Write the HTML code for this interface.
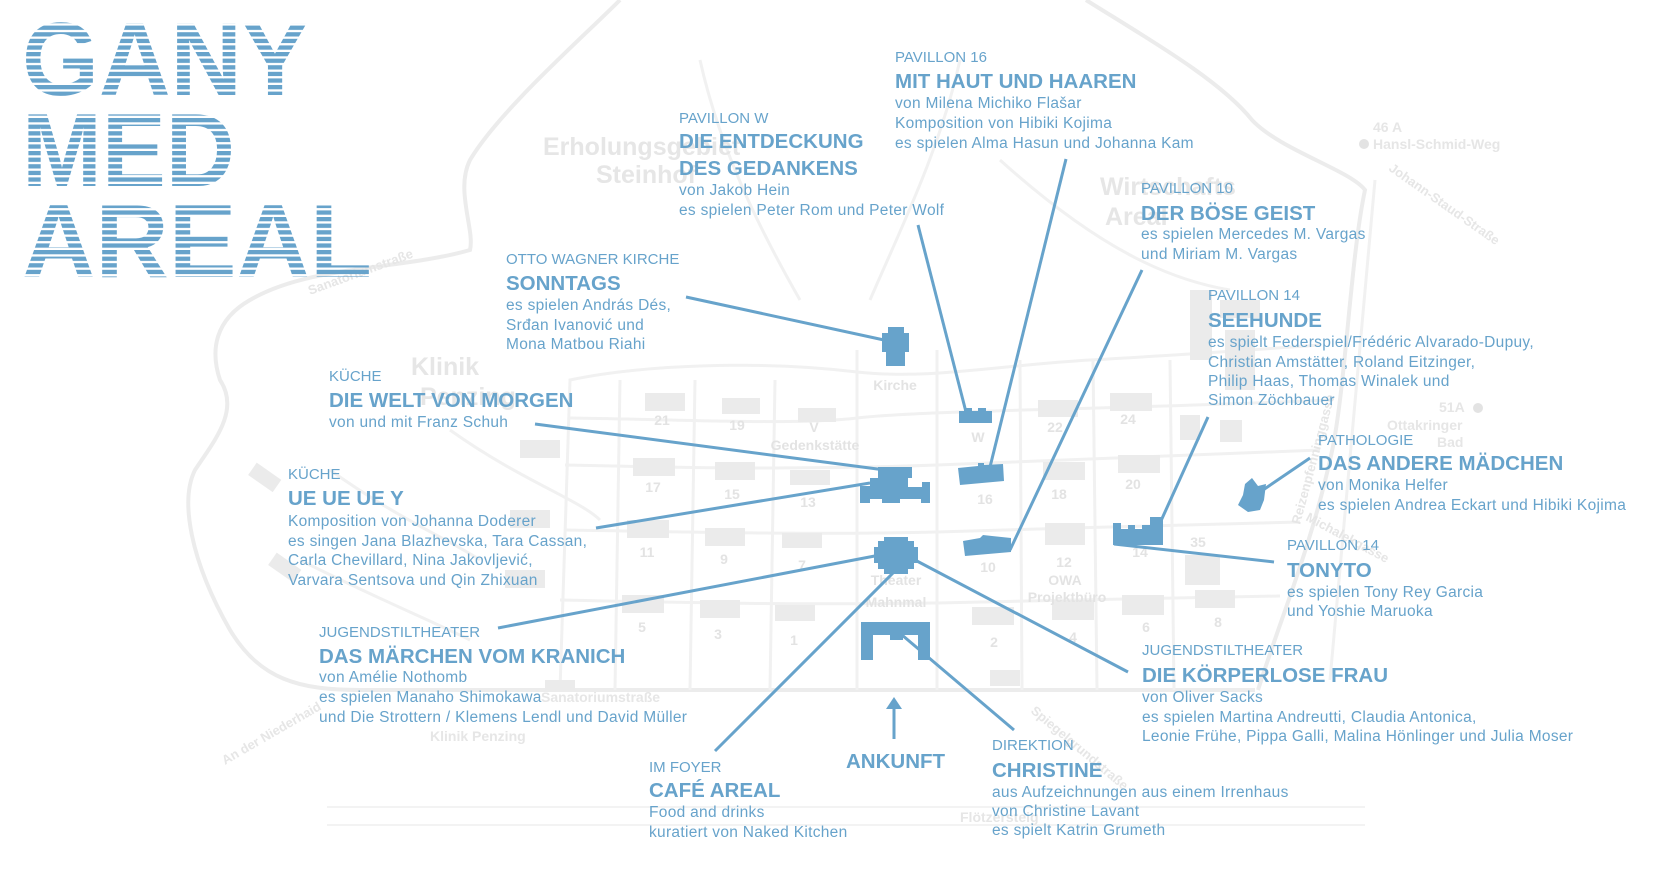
<!DOCTYPE html>
<html><head><meta charset="utf-8"><style>
html,body{margin:0;padding:0;background:#fff;}
svg{display:block;}
.h{font-family:"Liberation Sans",sans-serif;font-size:15px;fill:#67a3cb;}
.t{font-family:"Liberation Sans",sans-serif;font-size:20.5px;font-weight:bold;fill:#67a3cb;}
.b{font-family:"Liberation Sans",sans-serif;font-size:15.5px;fill:#67a3cb;letter-spacing:0.3px;}
.g{font-family:"Liberation Sans",sans-serif;font-weight:bold;fill:#e6e6e6;}
.n{font-family:"Liberation Sans",sans-serif;font-size:14px;fill:#e3e3e3;text-anchor:middle;font-weight:bold;}
.r{fill:none;stroke:#f1f1f1;stroke-width:3;}
.r2{fill:none;stroke:#ececec;stroke-width:4;}
.c{stroke:#67a3cb;stroke-width:3;fill:none;}
.bl{fill:#67a3cb;}
.gb{fill:#ebebeb;}
</style></head><body>
<svg width="1680" height="885" viewBox="0 0 1680 885" xmlns="http://www.w3.org/2000/svg">
<defs>
<pattern id="st" patternUnits="userSpaceOnUse" x="0" y="19" width="20" height="6.6">
<rect x="0" y="0" width="20" height="4.3" fill="#67a3cb"/>
</pattern>
</defs>

<path class="r2" d="M 620 0 C 580 40 500 110 470 160 C 455 190 475 230 470 250 C 400 270 310 265 250 300 C 215 320 210 350 220 380 C 240 410 215 440 195 470 C 180 500 190 560 230 630 C 260 680 300 690 360 690 L 1255 690"/>
<path class="r2" d="M 1086 0 C 1150 40 1220 80 1252 120 C 1280 150 1350 170 1365 190 C 1350 260 1345 400 1330 460 C 1310 550 1280 620 1258 690"/>
<path class="r" d="M 560 690 L 570 380 C 640 365 760 360 857 372 C 930 380 1000 365 1090 360 C 1180 355 1250 350 1320 345"/>
<path class="r" d="M 570 418 C 700 420 800 425 857 418 C 930 410 1100 410 1330 400"/>
<path class="r" d="M 565 465 C 700 468 800 470 937 465 C 1050 460 1200 455 1320 450"/>
<path class="r" d="M 565 530 C 700 532 800 535 937 532 C 1050 528 1200 525 1300 522"/>
<path class="r" d="M 560 600 C 700 603 800 605 937 603 C 1050 600 1200 598 1280 596"/>
<path class="r" d="M 620 380 L 615 690 M 695 380 L 690 690 M 775 380 L 770 690 M 857 350 L 857 690 M 937 350 L 937 690 M 1020 360 L 1022 690 M 1093 360 L 1097 690 M 1170 360 L 1174 690"/>
<path class="r" d="M 960 60 C 940 150 900 230 870 300 M 700 60 C 720 150 760 230 800 300 M 1000 160 C 1100 250 1170 280 1230 290"/>
<path class="r" d="M 330 470 C 400 520 450 540 480 560 M 300 560 C 380 600 430 620 470 640 M 450 430 C 520 480 580 500 600 520"/>
<path class="r" d="M 1375 180 L 1330 680"/>
<path d="M 327 807 L 1365 807 M 327 825 L 1365 825" stroke="#f3f3f3" stroke-width="2" fill="none"/>

<g class="gb">
<rect x="645" y="393" width="40" height="18"/><rect x="722" y="398" width="38" height="16"/><rect x="798" y="408" width="38" height="14"/>
<rect x="1038" y="400" width="40" height="17"/><rect x="1110" y="393" width="42" height="18"/>
<rect x="633" y="458" width="42" height="18"/><rect x="715" y="462" width="40" height="18"/><rect x="790" y="470" width="40" height="15"/>
<rect x="1043" y="462" width="42" height="18"/><rect x="1118" y="455" width="42" height="18"/>
<rect x="627" y="520" width="42" height="18"/><rect x="705" y="528" width="40" height="18"/><rect x="782" y="533" width="40" height="15"/>
<rect x="1045" y="523" width="40" height="22"/><rect x="1185" y="555" width="35" height="30"/>
<rect x="622" y="595" width="42" height="18"/><rect x="700" y="600" width="40" height="18"/><rect x="775" y="605" width="40" height="16"/>
<rect x="972" y="607" width="42" height="18"/><rect x="1052" y="600" width="42" height="20"/><rect x="1122" y="595" width="42" height="20"/><rect x="1195" y="590" width="40" height="18"/>
<rect x="520" y="440" width="40" height="18"/><rect x="510" y="510" width="40" height="18"/><rect x="505" y="570" width="40" height="18"/>
<rect x="1190" y="290" width="22" height="70"/><rect x="1220" y="300" width="40" height="18"/><rect x="1225" y="330" width="30" height="60"/>
<rect x="1180" y="415" width="20" height="25"/><rect x="1220" y="420" width="22" height="22"/>
<rect x="250" y="470" width="30" height="15" transform="rotate(35 265 477)"/><rect x="270" y="560" width="30" height="15" transform="rotate(35 285 567)"/>
<rect x="990" y="670" width="30" height="16"/><rect x="545" y="680" width="30" height="10"/>
</g>
<g class="n">
<text x="662" y="425">21</text><text x="737" y="430">19</text><text x="814" y="432">V</text>
<text x="978" y="442">W</text><text x="1055" y="432">22</text><text x="1128" y="424">24</text>
<text x="653" y="492">17</text><text x="732" y="499">15</text><text x="808" y="507">13</text>
<text x="985" y="504">16</text><text x="1059" y="499">18</text><text x="1133" y="489">20</text>
<text x="647" y="557">11</text><text x="724" y="564">9</text><text x="802" y="570">7</text>
<text x="988" y="572">10</text><text x="1064" y="567">12</text><text x="1065" y="585">OWA</text><text x="1067" y="602">Projektbüro</text>
<text x="1140" y="557">14</text><text x="1198" y="547">35</text>
<text x="642" y="632">5</text><text x="718" y="639">3</text><text x="794" y="645">1</text>
<text x="994" y="647">2</text><text x="1073" y="642">4</text><text x="1146" y="632">6</text><text x="1218" y="627">8</text>
<text x="896" y="585">Theater</text><text x="896" y="607">Mahnmal</text>
<text x="895" y="390">Kirche</text><text x="815" y="450">Gedenkstätte</text>
</g>
<text class="g" x="543" y="155" font-size="25">Erholungsgebiet</text>
<text class="g" x="596" y="183" font-size="25">Steinhof</text>
<text class="g" x="1100" y="195" font-size="25">Wirtschafts</text>
<text class="g" x="1105" y="225" font-size="25">Areal</text>
<text class="g" x="411" y="375" font-size="25">Klinik</text>
<text class="g" x="420" y="405" font-size="25">Penzing</text>
<text class="g" x="1373" y="132" font-size="14">46 A</text>
<circle cx="1364" cy="144" r="5" fill="#e3e3e3"/>
<text class="g" x="1373" y="149" font-size="14">Hansl-Schmid-Weg</text>
<text class="g" x="1388" y="170" font-size="13" transform="rotate(35 1388 170)">Johann-Staud-Straße</text>
<text class="g" x="1439" y="412" font-size="14">51A</text>
<circle cx="1478" cy="408" r="5" fill="#e3e3e3"/>
<text class="g" x="1387" y="430" font-size="14">Ottakringer</text>
<text class="g" x="1437" y="447" font-size="14">Bad</text>
<text class="g" x="541" y="702" font-size="14" font-weight="normal">Sanatoriumstraße</text>
<text class="g" x="430" y="741" font-size="14">Klinik Penzing</text>
<text class="g" x="225" y="765" font-size="13" font-weight="normal" transform="rotate(-30 225 765)">An der Niederhaid</text>
<text class="g" x="310" y="295" font-size="13" font-weight="normal" transform="rotate(-20 310 295)">Sanatoriumstraße</text>
<text class="g" x="1030" y="712" font-size="13" font-weight="normal" transform="rotate(40 1030 712)">Spiegelgrundstraße</text>
<text class="g" x="960" y="822" font-size="14" font-weight="normal">Flötzersteig</text>
<text class="g" x="1300" y="525" font-size="13" font-weight="normal" transform="rotate(-75 1300 525)">Reizenpfenninggasse</text>
<text class="g" x="1305" y="520" font-size="13" font-weight="normal" transform="rotate(28 1305 520)">Michalekgasse</text>

<g font-family="Liberation Sans, sans-serif" font-weight="bold" font-size="104" fill="url(#st)">
<text x="22" y="95" textLength="286" lengthAdjust="spacingAndGlyphs">GANY</text>
<text x="22" y="186" textLength="213" lengthAdjust="spacingAndGlyphs">MED</text>
<text x="22" y="277" textLength="350" lengthAdjust="spacingAndGlyphs">AREAL</text>
</g>

<path class="c" d="M686 297 L884 340"/>
<path class="c" d="M918 225 L966 412"/>
<path class="c" d="M1066 159 L990 467"/>
<path class="c" d="M1142 270 L1010 550"/>
<path class="c" d="M1208 417 L1160 523"/>
<path class="c" d="M1310 458 L1263 490"/>
<path class="c" d="M1114 544 L1274 562"/>
<path class="c" d="M535 424 L885 470"/>
<path class="c" d="M596 528 L870 483"/>
<path class="c" d="M498 628 L880 555"/>
<path class="c" d="M715 751 L896 570"/>
<path class="c" d="M915 560 L1128 672"/>
<path class="c" d="M902 635 L1014 730"/>
<path class="c" d="M894 739 L894 706"/>
<polygon class="bl" points="894,697 886,709 902,709"/>

<g class="bl">
<path d="M888 327 H904 V333 H909 V352 H905 V366 H886 V352 H882 V333 H888Z"/>
<rect x="959" y="411" width="33" height="12"/><rect x="964" y="408" width="8" height="4"/><rect x="978" y="408" width="8" height="4"/>
<path d="M958 468 L978 466 L978 463 L984 463 L984 465 L1003 464 L1004 481 L960 485Z"/>
<path d="M878 467 H912 V478 H908 V487 H922 V482 H930 V503 H921 V499 H900 V503 H882 V499 H870 V503 H860 V486 H870 V478 H878Z"/>
<path d="M884 537 H908 V541 H914 V547 H918 V563 H914 V569 H908 V574 H884 V569 H878 V563 H874 V547 H878 V541 H884Z"/>
<path d="M963 541 L980 538 L983 535 L992 536 L1011 538 L1011 552 L965 556Z"/>
<path d="M1113 523 H1121 V529 H1128 V525 H1135 V529 H1142 V525 H1150 V517 H1163 V545 H1113Z"/>
<path d="M1245 484 L1252 478 L1258 486 L1266 484 L1264 500 L1260 510 L1248 512 L1238 505 L1243 495Z"/>
<path d="M861 622 H930 V660 H918 V635 H903 V640 H890 V635 H873 V660 H861Z"/>
</g>

<text class="h" x="895" y="62">PAVILLON 16</text>
<text class="t" x="895" y="88">MIT HAUT UND HAAREN</text>
<text class="b" x="895" y="108">von Milena Michiko Flašar</text>
<text class="b" x="895" y="128">Komposition von Hibiki Kojima</text>
<text class="b" x="895" y="148">es spielen Alma Hasun und Johanna Kam</text>

<text class="h" x="679" y="123">PAVILLON W</text>
<text class="t" x="679" y="148">DIE ENTDECKUNG</text>
<text class="t" x="679" y="175">DES GEDANKENS</text>
<text class="b" x="679" y="195">von Jakob Hein</text>
<text class="b" x="679" y="215">es spielen Peter Rom und Peter Wolf</text>

<text class="h" x="506" y="264">OTTO WAGNER KIRCHE</text>
<text class="t" x="506" y="290">SONNTAGS</text>
<text class="b" x="506" y="310">es spielen András Dés,</text>
<text class="b" x="506" y="330">Srđan Ivanović und</text>
<text class="b" x="506" y="349">Mona Matbou Riahi</text>

<text class="h" x="329" y="381">KÜCHE</text>
<text class="t" x="329" y="407">DIE WELT VON MORGEN</text>
<text class="b" x="329" y="427">von und mit Franz Schuh</text>

<text class="h" x="288" y="479">KÜCHE</text>
<text class="t" x="288" y="505">UE UE UE Y</text>
<text class="b" x="288" y="526">Komposition von Johanna Doderer</text>
<text class="b" x="288" y="546">es singen Jana Blazhevska, Tara Cassan,</text>
<text class="b" x="288" y="565">Carla Chevillard, Nina Jakovljević,</text>
<text class="b" x="288" y="585">Varvara Sentsova und Qin Zhixuan</text>

<text class="h" x="319" y="637">JUGENDSTILTHEATER</text>
<text class="t" x="319" y="663">DAS MÄRCHEN VOM KRANICH</text>
<text class="b" x="319" y="682">von Amélie Nothomb</text>
<text class="b" x="319" y="702">es spielen Manaho Shimokawa</text>
<text class="b" x="319" y="722">und Die Strottern / Klemens Lendl und David Müller</text>

<text class="h" x="649" y="772">IM FOYER</text>
<text class="t" x="649" y="797">CAFÉ AREAL</text>
<text class="b" x="649" y="817">Food and drinks</text>
<text class="b" x="649" y="837">kuratiert von Naked Kitchen</text>

<text class="t" x="846" y="768">ANKUNFT</text>

<text class="h" x="992" y="750">DIREKTION</text>
<text class="t" x="992" y="777">CHRISTINE</text>
<text class="b" x="992" y="797">aus Aufzeichnungen aus einem Irrenhaus</text>
<text class="b" x="992" y="816">von Christine Lavant</text>
<text class="b" x="992" y="835">es spielt Katrin Grumeth</text>

<text class="h" x="1142" y="655">JUGENDSTILTHEATER</text>
<text class="t" x="1142" y="682">DIE KÖRPERLOSE FRAU</text>
<text class="b" x="1142" y="702">von Oliver Sacks</text>
<text class="b" x="1142" y="722">es spielen Martina Andreutti, Claudia Antonica,</text>
<text class="b" x="1142" y="741">Leonie Frühe, Pippa Galli, Malina Hönlinger und Julia Moser</text>

<text class="h" x="1287" y="550">PAVILLON 14</text>
<text class="t" x="1287" y="577">TONYTO</text>
<text class="b" x="1287" y="597">es spielen Tony Rey Garcia</text>
<text class="b" x="1287" y="616">und Yoshie Maruoka</text>

<text class="h" x="1318" y="445">PATHOLOGIE</text>
<text class="t" x="1318" y="470">DAS ANDERE MÄDCHEN</text>
<text class="b" x="1318" y="490">von Monika Helfer</text>
<text class="b" x="1318" y="510">es spielen Andrea Eckart und Hibiki Kojima</text>

<text class="h" x="1208" y="300">PAVILLON 14</text>
<text class="t" x="1208" y="327">SEEHUNDE</text>
<text class="b" x="1208" y="347">es spielt Federspiel/Frédéric Alvarado-Dupuy,</text>
<text class="b" x="1208" y="367">Christian Amstätter, Roland Eitzinger,</text>
<text class="b" x="1208" y="386">Philip Haas, Thomas Winalek und</text>
<text class="b" x="1208" y="405">Simon Zöchbauer</text>

<text class="h" x="1141" y="193">PAVILLON 10</text>
<text class="t" x="1141" y="220">DER BÖSE GEIST</text>
<text class="b" x="1141" y="239">es spielen Mercedes M. Vargas</text>
<text class="b" x="1141" y="259">und Miriam M. Vargas</text>
</svg>
</body></html>
